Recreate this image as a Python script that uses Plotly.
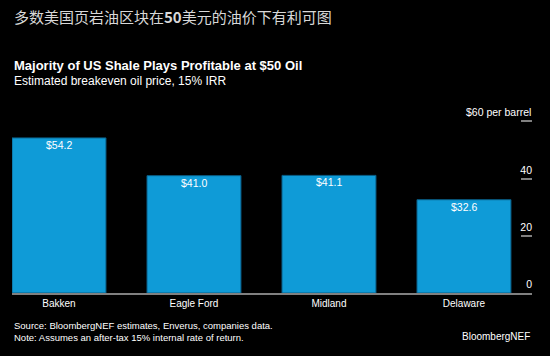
import plotly.graph_objects as go

categories = ["Bakken", "Eagle Ford", "Midland", "Delaware"]
breakeven = [54.2, 41.0, 41.1, 32.6]
bar_labels = ["$54.2", "$41.0", "$41.1", "$32.6"]
tick_vals = [0, 20, 40, 60]
tick_text = ["0", "20", "40", ""]
top_tick_label = "$60 per barrel"

W, H = 550, 356
L, R, B = 12, 18, 63
T = 119
PX_PER_UNIT = (293 - 121.3) / 60
Y_TOP = (H - B - T) / PX_PER_UNIT

fig = go.Figure(go.Bar(
    x=categories, y=breakeven,
    marker=dict(color="#0f9bd7", line=dict(color="#0a5e86", width=1)),
    width=0.696, cliponaxis=False, hoverinfo="skip",
))

font = "Liberation Sans, Arial, sans-serif"
texts = [
    dict(text="多数美国页岩油区块在<b>50</b>美元的油价下有利可图", x=12, y=17, anchor="left",
         font=dict(family="Noto Sans CJK SC", size=15, color="#d8d8d8")),
    dict(text="<b>Majority of US Shale Plays Profitable at $50 Oil</b>", x=12, y=65, anchor="left",
         font=dict(family=font, size=13, color="white")),
    dict(text="Estimated breakeven oil price, 15% IRR", x=12, y=81, anchor="left",
         font=dict(family=font, size=12, color="white")),
    dict(text="Source: BloombergNEF estimates, Enverus, companies data.", x=12, y=325, anchor="left",
         font=dict(family=font, size=9.5, color="white")),
    dict(text="Note: Assumes an after-tax 15% internal rate of return.", x=12, y=337, anchor="left",
         font=dict(family=font, size=9.5, color="white")),
    dict(text="BloombergNEF", x=532, y=336, anchor="right",
         font=dict(family=font, size=10, color="white")),
]
annotations = []
for t in texts:
    annotations.append(dict(
        text=t["text"], xref="paper", yref="paper",
        x=(t["x"] - L) / (W - L - R), y=1 - (t["y"] - T) / (H - T - B),
        xanchor=t["anchor"], yanchor="middle", showarrow=False, font=t["font"],
    ))

# value labels at top of bars
for c, v, s in zip(categories, breakeven, bar_labels):
    annotations.append(dict(
        text=s, x=c, y=v, xref="x", yref="y", xanchor="center", yanchor="top",
        yshift=1, showarrow=False, font=dict(family=font, size=10.5, color="white"),
    ))

# top tick label
annotations.append(dict(
    text=top_tick_label, x=1, y=tick_vals[-1], xref="paper", yref="y",
    xanchor="right", yanchor="bottom", yshift=1, xshift=1, showarrow=False,
    font=dict(family=font, size=10.5, color="white"),
))

fig.update_layout(
    width=W, height=H, margin=dict(l=L, r=R, t=T, b=B),
    paper_bgcolor="black", plot_bgcolor="black",
    showlegend=False,
    font=dict(family=font, color="white"),
    xaxis=dict(range=[-0.348, 3.504], showgrid=False, zeroline=False,
               showline=True, linecolor="#808080", linewidth=2,
               ticks="", tickfont=dict(size=10, color="white")),
    yaxis=dict(range=[0, Y_TOP], side="right", showgrid=False, zeroline=False,
               showline=False, tickvals=tick_vals, ticktext=tick_text,
               ticks="inside", ticklen=11, tickwidth=2, tickcolor="#808080",
               ticklabelposition="inside top", ticklabelstandoff=-3,
               tickfont=dict(size=10.5, color="white")),
    annotations=annotations,
)

fig.write_html("out.html", config={"displayModeBar": False},
               post_script="document.body.style.margin='0px';document.body.style.background='black';")
